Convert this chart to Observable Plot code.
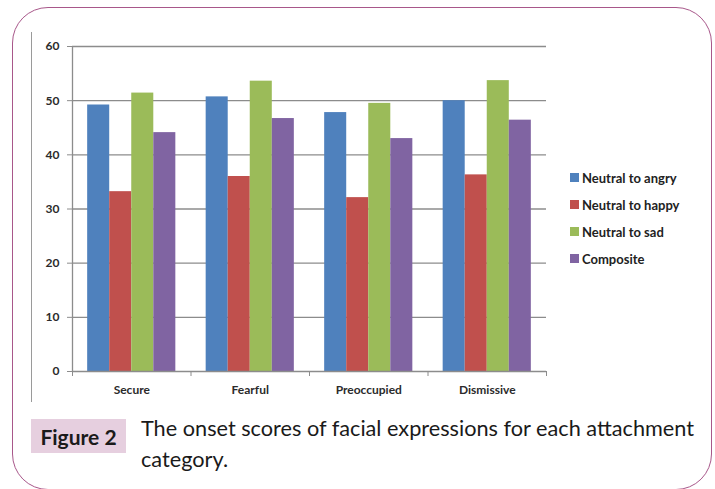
<!DOCTYPE html>
<html>
<head>
<meta charset="utf-8">
<script src="https://cdn.jsdelivr.net/npm/d3@7"></script>
<script src="https://cdn.jsdelivr.net/npm/@observablehq/plot@0.6"></script>
<style>
  html, body { margin: 0; padding: 0; background: #fff; }
  body { width: 715px; height: 489px; position: relative; overflow: hidden; font-family: Lato, "Open Sans", sans-serif; }
  #frame { position: absolute; left: 12px; top: 7px; width: 700px; height: 483px; box-sizing: border-box;
           border: 1.5px solid #a8578a; border-radius: 36px; }
  #leftline { position: absolute; left: 31px; top: 32px; width: 1.3px; height: 370px; background: #9a9a9a; }
  #chart { position: absolute; left: 0; top: 0; }
  #legend { position: absolute; left: 570px; top: 164px; font: bold 13px Lato, sans-serif; color: #222; }
  #legend .item { height: 27px; display: flex; align-items: center; }
  #legend .sw { width: 9px; height: 9px; margin-right: 3px; }
  #figlabel { position: absolute; left: 31px; top: 419px; width: 95px; height: 34px; background: #e6cfdf;
              font: bold 21px Lato, sans-serif; color: #1a1a1a; display: flex; align-items: center; justify-content: center; }
  #caption { position: absolute; left: 141px; top: 413px; width: 570px; font: 21.7px Lato, sans-serif; line-height: 31px; color: #1a1a1a; }
</style>
</head>
<body>
<div id="frame"></div>
<div id="leftline"></div>
<div id="chart"></div>
<div id="legend"></div>
<div id="figlabel">Figure 2</div>
<div id="caption">The onset scores of facial expressions for each attachment<br>category.</div>
<script>
const categories = ["Secure", "Fearful", "Preoccupied", "Dismissive"];
const series = ["Neutral to angry", "Neutral to happy", "Neutral to sad", "Composite"];
const angry = [49.2, 50.7, 47.8, 50.0];
const happy = [33.2, 36.0, 32.1, 36.3];
const sad = [51.4, 53.6, 49.5, 53.7];
const composite = [44.1, 46.7, 43.0, 46.4];
const yTicks = [0, 10, 20, 30, 40, 50, 60];
const colors = ["#4f81bd", "#c0504d", "#9bbb59", "#8064a2"];

const values = [angry, happy, sad, composite];
const data = [];
categories.forEach((c, ci) => {
  series.forEach((s, si) => {
    data.push({category: c, ci: ci + 1, series: s, si, value: values[si][ci]});
  });
});

const BAR = 0.186;
const GROUP = BAR * series.length;
const bounds = d3.range(categories.length + 1).map(i => i + 0.5);
const centers = d3.range(1, categories.length + 1);

const chart = Plot.plot({
  width: 560,
  height: 410,
  marginLeft: 72,
  marginRight: 14,
  marginTop: 46,
  marginBottom: 39,
  style: {background: "transparent", fontFamily: "Lato, sans-serif"},
  x: {domain: [0.5, categories.length + 0.5], axis: null},
  y: {domain: [0, 60], axis: null},
  color: {domain: series, range: colors},
  marks: [
    Plot.ruleY(yTicks.filter(t => t > 0), {stroke: "#8c8c8c", strokeWidth: 1.3}),
    Plot.rectY(data, {
      x1: d => d.ci - GROUP / 2 + d.si * BAR,
      x2: d => d.ci - GROUP / 2 + (d.si + 1) * BAR,
      y: "value",
      fill: "series"
    }),
    Plot.ruleY([0], {stroke: "#8c8c8c", strokeWidth: 1.3}),
    Plot.ruleX([0.5], {stroke: "#8c8c8c", strokeWidth: 1.3}),
    Plot.axisY({ticks: yTicks, tickSize: 5, tickPadding: 8, label: null, stroke: "#8c8c8c", fill: "#2b2b2b", fontWeight: "bold", fontSize: 12}),
    Plot.axisX({ticks: bounds, tickSize: 5, tickFormat: () => "", label: null, stroke: "#8c8c8c"}),
    Plot.axisX({ticks: centers, tickSize: 0, tickPadding: 14, tickFormat: i => categories[i - 1], label: null, fill: "#2b2b2b", fontWeight: "bold", fontSize: 12})
  ]
});
document.getElementById("chart").appendChild(chart);

const legend = document.getElementById("legend");
series.forEach((s, i) => {
  const item = document.createElement("div");
  item.className = "item";
  const sw = document.createElement("span");
  sw.className = "sw";
  sw.style.background = colors[i];
  item.appendChild(sw);
  item.appendChild(document.createTextNode(s));
  legend.appendChild(item);
});
</script>
</body>
</html>
